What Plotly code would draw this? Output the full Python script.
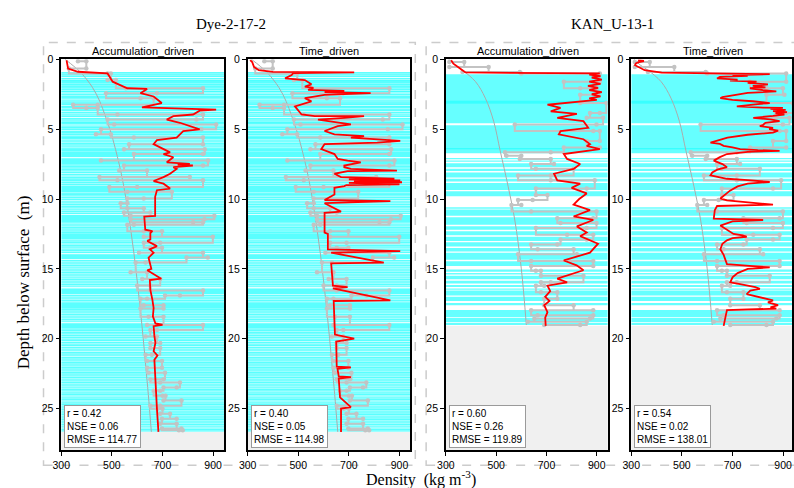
import plotly.graph_objects as go

W, H = 794, 488

# ---------------- Dye-2-17-2 ----------------
dye_end = 26.67
dye_obs_depth = [0.14, 0.66, 1.01, 1.48, 2.07, 2.43, 2.78, 3.25, 3.48, 3.95, 4.31, 4.66, 5.01, 5.37,
                 5.60, 6.07, 6.43, 6.78, 7.25, 7.60, 7.96, 8.43, 8.66, 9.13, 9.48, 9.96, 10.30, 10.66,
                 10.97, 11.20, 11.44, 11.67, 11.84, 12.30, 12.70, 13.13, 13.49, 13.84, 14.19, 14.55,
                 15.25, 15.72, 16.19, 16.55, 16.90, 17.13, 17.60, 17.84, 18.43, 19.02, 19.37, 19.84,
                 20.31, 20.67, 21.14, 21.60, 22.08, 22.43, 22.90, 23.14, 23.49, 23.73, 24.08, 24.43,
                 24.79, 25.02, 25.37, 25.73, 26.08, 26.43, 26.55]
dye_obs_lo = [366, 330, 483, 483, 555, 477, 613, 347, 399, 522, 483, 509, 457, 437,
              587, 568, 548, 587, 457, 548, 529, 451, 522, 490, 561, 561, 535, 561,
              548, 574, 574, 821, 561, 626, 626, 626, 652, 607, 795, 594,
              574, 620, 600, 652, 710, 613, 626, 613, 645, 639, 652, 633,
              652, 652, 633, 639, 639, 645, 652, 691, 704, 665, 700, 704,
              652, 680, 691, 698, 691, 698, 765]
dye_obs_hi = [399, 399, 496, 516, 860, 678, 665, 444, 444, 860, 834, 912, 854, 496,
              860, 860, 867, 860, 880, 860, 639, 808, 860, 600, 737, 626, 561, 626,
              652, 905, 866, 860, 587, 698, 899, 691, 698, 860, 879, 633,
              639, 691, 652, 860, 769, 639, 704, 704, 704, 860, 678, 678,
              691, 691, 658, 698, 698, 710, 704, 769, 756, 691, 712, 775,
              691, 700, 730, 756, 756, 775, 780]
# thick ice bands (top, bottom) and thin ice lenses (depth)
dye_ice_top = [1.33, 2.45, 3.75, 4.20, 5.30, 6.60, 7.08, 8.75, 9.05, 11.15, 12.45, 13.95, 16.40,
               17.45, 18.90]
dye_ice_bot = [1.42, 2.58, 3.88, 4.33, 5.42, 7.00, 7.50, 8.88, 9.50, 11.70, 12.90, 14.30, 16.80,
               17.85, 19.25]
dye_ice_lines = [0.95, 1.05, 1.12, 1.22, 1.50, 1.58, 1.66, 1.77, 1.85, 1.96, 2.04, 2.15, 2.27, 2.33,
                 2.66, 2.73, 2.82, 2.93, 3.05, 3.14, 3.22, 3.36, 3.44, 3.57, 3.66, 3.97, 4.08,
                 4.40, 4.51, 4.58, 4.70, 4.83, 4.91, 5.02, 5.16, 5.24, 5.50, 5.59, 5.66, 5.78,
                 5.90, 6.01, 6.12, 6.22, 6.35, 6.44, 6.53, 7.56, 7.66, 7.77, 7.88, 7.99, 8.10, 8.24,
                 8.35, 8.47, 8.58, 8.66, 8.97, 9.58, 9.66, 9.78, 9.90, 10.02, 10.16, 10.27, 10.40,
                 10.52, 10.64, 10.77, 10.90, 11.02, 11.80, 11.92, 12.04, 12.15, 12.28, 12.38, 13.00,
                 13.11, 13.22, 13.34, 13.45, 13.58, 13.70, 13.82, 14.40, 14.52, 14.64, 14.76, 14.88,
                 15.02, 15.15, 15.26, 15.38, 15.50, 15.64, 15.76, 15.88, 16.00, 16.12, 16.24, 16.90,
                 17.02, 17.14, 17.26, 17.38, 17.92, 18.02, 18.14, 18.26, 18.38, 18.50, 18.62, 18.74,
                 19.32, 19.42, 19.55, 19.66, 19.78, 19.90, 20.03, 20.14, 20.27, 20.38, 20.50, 20.63,
                 20.74, 20.86, 20.99, 21.10, 21.22, 21.35, 21.46, 21.58, 21.71, 21.82, 21.94, 22.07,
                 22.18, 22.30, 22.43, 22.54, 22.66, 22.79, 22.90, 23.02, 23.15, 23.26, 23.38, 23.51,
                 23.62, 23.74, 23.87, 23.98, 24.10, 24.23, 24.34, 24.46, 24.59, 24.70, 24.82, 24.95,
                 25.06, 25.18, 25.31, 25.42, 25.54, 25.67, 25.78, 25.90, 26.03, 26.14, 26.26, 26.39,
                 26.50, 26.60]
dye_hl_depth = [0, 0.5, 1, 2, 3, 4, 5, 6, 8, 10, 12, 14, 16, 18, 20, 22, 24, 26.67]
dye_hl_dens = [315, 350, 380, 423, 452, 473, 492, 508, 535, 556, 573, 588, 601, 613, 624, 634, 644, 656]

dye_acc_depth = [0.07, 0.66, 0.89, 1.01, 1.6, 2.07, 2.12, 2.42, 2.66, 3.13, 3.44, 3.48, 3.6, 3.67, 3.95,
                 4.07, 4.31, 4.54, 5.01, 5.13, 5.37, 5.6, 5.79, 6.07, 6.66, 6.78, 7.01, 7.37, 7.49, 7.55,
                 7.6, 7.72, 7.84, 8.19, 8.43, 8.71, 8.9, 9.25, 9.37, 9.84, 11.2, 11.25, 12.2, 12.3,
                 12.43, 12.9, 13.0, 13.37, 13.6, 13.84, 14.2, 15.0, 15.1, 15.7, 15.8, 16.5, 17.2,
                 17.8, 18.4, 18.9, 19.0, 19.1, 19.8, 20.3, 20.9, 21.2, 21.5, 22.5, 23.5, 25.0, 26.67]
dye_acc_dens = [321, 327, 366, 483, 503, 561, 639, 613, 665, 697, 619, 704, 912, 847, 821,
                743, 717, 769, 847, 782, 769, 756, 678, 665, 730, 704, 743, 717, 808, 760,
                820, 743, 756, 730, 704, 665, 704, 730, 678, 671, 671, 628, 632, 660,
                652, 652, 640, 678, 650, 665, 645, 656, 640, 695, 650, 652, 660,
                665, 662, 672, 700, 665, 668, 672, 665, 680, 668, 670, 672, 678, 684]
dye_time_depth = [0.05, 0.19, 0.54, 0.78, 0.90, 0.94, 0.98, 1.13, 1.36, 1.48, 1.79, 1.95, 2.05, 2.19,
                  2.26, 2.35, 2.42, 2.54, 2.78, 3.01, 3.37, 3.95, 4.07, 4.07, 4.19, 4.31, 4.66, 4.78,
                  5.13, 5.37, 5.49, 5.6, 5.84, 5.96, 6.07, 6.43, 6.78, 7.13, 7.25, 7.37, 7.6, 7.72,
                  7.84, 7.96, 8.0, 8.19, 8.43, 8.55, 8.6, 8.66, 8.72, 8.8, 8.85, 8.95, 9.0, 9.07,
                  9.2, 9.67, 10.07, 10.15, 10.3, 10.9, 10.99, 12.4, 12.5, 13.6, 13.73, 13.84, 14.55,
                  14.6, 16.2, 16.3, 16.4, 17.26, 17.3, 19.7, 20.0, 20.2, 22.0, 22.05, 22.15, 22.7,
                  22.75, 22.85, 24.2, 24.9, 25.0, 26.67]
dye_time_dens = [310, 318, 325, 344, 400, 721, 480, 474, 448, 526, 552, 526, 560, 539,
                 682, 604, 786, 604, 526, 552, 487, 513, 565, 760, 682, 578, 708, 656,
                 604, 643, 760, 708, 903, 812, 604, 591, 643, 656, 695, 747, 682, 682,
                 708, 890, 695, 643, 669, 880, 700, 903, 720, 910, 700, 900, 690, 682,
                 643, 643, 604, 864, 604, 669, 604, 604, 617, 617, 903, 630, 838,
                 630, 637, 695, 637, 864, 640, 645, 721, 650, 652, 708, 655, 660,
                 708, 660, 665, 708, 669, 669]

# ---------------- KAN_U-13-1 ----------------
kan_end = 19.08
kan_obs_depth = [0.19, 0.54, 0.90, 1.01, 1.60, 2.07, 2.54, 3.13, 3.84, 4.19, 4.66, 5.13, 5.84, 6.31,
                 6.66, 6.90, 7.13, 7.49, 7.84, 8.31, 8.66, 9.25, 9.72, 10.07, 10.43, 10.90, 11.37,
                 11.72, 12.07, 12.55, 12.90, 13.25, 13.60, 13.96, 14.43, 14.79, 15.14, 15.49, 15.96,
                 16.20, 16.67, 17.14, 17.61, 17.96, 18.32, 18.55, 18.79, 19.02]
kan_obs_lo = [314, 314, 366, 600, 769, 834, 834, 834, 873, 860, 574, 886, 860, 769,
              535, 541, 594, 639, 658, 587, 717, 658, 658, 587, 561, 639, 743,
              756, 658, 782, 756, 639, 665, 587, 639, 639, 658, 678, 678,
              658, 678, 691, 691, 639, 665, 652, 626, 691]
kan_obs_hi = [373, 470, 594, 912, 912, 899, 905, 938, 912, 925, 899, 912, 912, 912,
              717, 600, 717, 730, 808, 717, 892, 860, 704, 645, 600, 899, 886,
              899, 860, 886, 860, 743, 808, 821, 886, 886, 678, 847, 717,
              691, 743, 743, 808, 886, 886, 873, 860, 834]
kan_ice_top = [1.06, 4.72, 7.06, 7.25, 7.44, 7.84, 8.10, 8.55, 8.85, 9.45, 10.58, 10.75, 11.30,
               11.95, 12.30, 12.70, 13.10, 13.50, 13.85, 14.45, 15.05, 15.30, 15.50, 15.85, 16.15,
               16.40, 16.55, 17.00, 17.45, 17.95, 18.50, 18.85]
kan_ice_bot = [4.58, 6.73, 7.16, 7.34, 7.72, 8.00, 8.45, 8.75, 9.35, 9.80, 10.70, 11.20, 11.85,
               12.20, 12.60, 13.00, 13.40, 13.75, 14.35, 14.80, 15.20, 15.40, 15.75, 16.05, 16.30,
               16.50, 16.90, 17.30, 17.60, 18.45, 18.80, 19.02]
kan_ice_lines = [3.00, 3.12, 6.40]
kan_hl_depth = [0, 0.4, 0.78, 1.6, 2.78, 4.43, 6.55, 9.13, 11.5, 15.0, 19.02]
kan_hl_dens = [312, 335, 366, 418, 457, 490, 516, 548, 574, 600, 620]

kan_acc_depth = [0.07, 0.31, 0.78, 0.94, 1.01, 1.1, 1.2, 1.3, 1.45, 1.6, 1.75, 1.9, 2.05, 2.2, 2.35,
                 2.5, 2.65, 2.8, 2.9, 3.25, 3.48, 3.72, 3.9, 4.19, 4.43, 4.9, 5.13, 5.37, 5.72, 6.07,
                 6.2, 6.43, 6.78, 7.13, 7.49, 7.84, 8.19, 8.66, 8.9, 9.2, 9.6, 10.0, 10.4, 10.8,
                 11.25, 11.5, 11.96, 12.4, 12.66, 13.2, 13.84, 14.4, 14.75, 15.1, 15.7, 15.96, 16.2,
                 16.6, 17.0, 17.3, 17.6, 18.1, 18.5, 19.08]
kan_acc_dens = [321, 330, 366, 378, 912, 870, 915, 880, 920, 870, 915, 865, 905, 870, 920,
                880, 915, 870, 900, 704, 756, 717, 821, 743, 847, 866, 756, 749, 847, 873,
                860, 912, 769, 782, 834, 808, 730, 743, 834, 800, 860, 830, 808, 873,
                808, 886, 821, 860, 834, 905, 873, 769, 820, 847, 743, 782, 704,
                715, 695, 712, 691, 704, 695, 697]
kan_time_depth = [0.07, 0.12, 0.2, 0.3, 0.42, 0.6, 0.78, 0.95, 1.06, 1.12, 1.18, 1.25, 1.37, 1.45,
                  1.52, 1.6, 1.68, 1.8, 1.9, 2.0, 2.07, 2.2, 2.3, 2.4, 2.55, 2.7, 2.78, 2.9, 3.0,
                  3.13, 3.2, 3.3, 3.37, 3.45, 3.48, 3.55, 3.62, 3.7, 3.78, 3.85, 3.95, 4.05, 4.19,
                  4.3, 4.43, 4.55, 4.7, 4.78, 4.9, 5.0, 5.1, 5.25, 5.4, 5.6, 5.8, 5.96, 6.05, 6.19,
                  6.3, 6.43, 6.5, 6.55, 6.62, 6.78, 7.0, 7.25, 7.5, 7.72, 7.9, 8.1, 8.31, 8.45,
                  8.55, 8.65, 8.78, 8.9, 9.1, 9.4, 9.7, 9.96, 10.1, 10.25, 10.4, 10.5, 10.8, 11.1,
                  11.4, 11.5, 11.6, 11.9, 12.2, 12.5, 12.6, 12.7, 12.8, 12.96, 13.2, 13.6, 14.0,
                  14.4, 14.66, 14.8, 14.9, 15.0, 15.3, 15.6, 15.96, 16.1, 16.2, 16.3, 16.43, 16.55,
                  16.8, 17.0, 17.1, 17.26, 17.4, 17.6, 17.75, 17.85, 17.9, 17.96, 18.2, 18.55, 19.08]
kan_time_dens = [327, 350, 330, 318, 315, 335, 353, 420, 847, 700, 760, 650, 639, 720,
                 690, 795, 760, 840, 780, 830, 769, 820, 873, 760, 700, 660, 652, 700, 780,
                 847, 800, 740, 717, 820, 899, 850, 910, 860, 915, 870, 905, 860, 782,
                 850, 886, 830, 820, 808, 860, 845, 880, 860, 760, 680, 640, 613, 650, 665,
                 700, 730, 800, 886, 760, 678, 650, 626, 660, 678, 640, 620, 613, 650,
                 678, 760, 847, 760, 720, 690, 670, 652, 678, 760, 860, 639, 630, 628,
                 626, 821, 700, 652, 680, 704, 740, 756, 700, 678, 660, 652, 665,
                 672, 678, 780, 847, 760, 720, 700, 691, 730, 756, 790, 808, 770,
                 756, 800, 830, 860, 840, 880, 850, 873, 760, 678, 675, 671, 665]

site_titles = ["Dye-2-17-2", "KAN_U-13-1"]
panel_titles = ["Accumulation_driven", "Time_driven", "Accumulation_driven", "Time_driven"]
stats_r = ["0.42", "0.40", "0.60", "0.54"]
stats_nse = ["0.06", "0.05", "0.26", "0.02"]
stats_rmse = ["114.77", "114.98", "119.89", "138.01"]

# ---------------- layout geometry (pixels) ----------------
panel_px = [(53, 218), (242, 407), (443, 607), (631, 794)]
x_ranges = [[300, 943], [300, 943], [300, 943], [300, 935]]
top_px, bot_px = 54, 450
y_range = [28, 0]

sites = [
    dict(end=dye_end, od=dye_obs_depth, lo=dye_obs_lo, hi=dye_obs_hi, it=dye_ice_top, ib=dye_ice_bot,
         il=dye_ice_lines, hd=dye_hl_depth, hv=dye_hl_dens, faint=True),
    dict(end=kan_end, od=kan_obs_depth, lo=kan_obs_lo, hi=kan_obs_hi, it=kan_ice_top, ib=kan_ice_bot,
         il=kan_ice_lines, hd=kan_hl_depth, hv=kan_hl_dens, faint=False),
]
models = [(dye_acc_depth, dye_acc_dens), (dye_time_depth, dye_time_dens),
          (kan_acc_depth, kan_acc_dens), (kan_time_depth, kan_time_dens)]

fig = go.Figure()
XMIN, XMAX = 300, 950
for i in range(4):
    s = sites[i // 2]
    xa = "x" if i == 0 else f"x{i+1}"
    ya = "y" if i == 0 else f"y{i+1}"
    # no-data background
    fig.add_trace(go.Scatter(x=[XMIN, XMAX, XMAX, XMIN, XMIN], y=[s["end"], s["end"], 28, 28, s["end"]],
                             fill="toself", fillcolor="#f0f0f0", line=dict(width=0), mode="lines",
                             hoverinfo="skip", showlegend=False, xaxis=xa, yaxis=ya))
    if s["faint"]:
        fig.add_trace(go.Scatter(x=[XMIN, XMAX, XMAX, XMIN, XMIN], y=[0.95, 0.95, s["end"], s["end"], 0.95],
                                 fill="toself", fillcolor="rgba(0,255,255,0.12)", line=dict(width=0),
                                 mode="lines", hoverinfo="skip", showlegend=False, xaxis=xa, yaxis=ya))
    ix, iy = [], []
    for t, b in zip(s["it"], s["ib"]):
        ix += [XMIN, XMAX, XMAX, XMIN, XMIN, None]
        iy += [t, t, b, b, t, None]
    fig.add_trace(go.Scatter(x=ix, y=iy, fill="toself", fillcolor="rgba(0,255,255,0.6)",
                             line=dict(width=0), mode="lines", hoverinfo="skip", showlegend=False,
                             xaxis=xa, yaxis=ya))
    lx, ly = [], []
    for d in s["il"]:
        lx += [XMIN, XMAX, None]
        ly += [d, d, None]
    fig.add_trace(go.Scatter(x=lx, y=ly, mode="lines", line=dict(color="rgba(0,255,255,0.6)", width=1.2),
                             hoverinfo="skip", showlegend=False, xaxis=xa, yaxis=ya))
    # empirical curve
    fig.add_trace(go.Scatter(x=s["hv"], y=s["hd"], mode="lines", line=dict(color="#ababab", width=1),
                             line_shape="spline", showlegend=False, xaxis=xa, yaxis=ya))
    # observations: each sample drawn as a horizontal bar, linked by steps
    ox, oy = [], []
    prev = None
    for d, lo, hi in zip(s["od"], s["lo"], s["hi"]):
        if prev is not None and abs(prev - hi) < abs(prev - lo):
            pair = [hi, lo]
        else:
            pair = [lo, hi]
        ox += pair
        oy += [d, d]
        prev = pair[1]
    fig.add_trace(go.Scatter(x=ox, y=oy, mode="lines+markers",
                             line=dict(color="#c3c3c3", width=2, shape="vh"),
                             marker=dict(color="#c3c3c3", size=4.5), showlegend=False, xaxis=xa, yaxis=ya))
    # model
    md, mv = models[i]
    fig.add_trace(go.Scatter(x=mv, y=md, mode="lines", line=dict(color="red", width=1.8),
                             showlegend=False, xaxis=xa, yaxis=ya))

axis_common = dict(showline=True, mirror=True, linecolor="black", linewidth=1.5, ticks="outside",
                   ticklen=4, tickwidth=1, tickcolor="black", showgrid=False, zeroline=False,
                   tickfont=dict(family="Liberation Sans, Arial", size=10.5, color="black"))
layout = dict(width=W, height=H, margin=dict(l=0, r=0, t=0, b=0), plot_bgcolor="white",
              paper_bgcolor="white", showlegend=False)
for i in range(4):
    x0, x1 = panel_px[i]
    xk = "xaxis" if i == 0 else f"xaxis{i+1}"
    yk = "yaxis" if i == 0 else f"yaxis{i+1}"
    ya = "y" if i == 0 else f"y{i+1}"
    xa = "x" if i == 0 else f"x{i+1}"
    layout[xk] = dict(domain=[x0 / W, x1 / W], range=x_ranges[i], tickvals=[300, 500, 700, 900],
                      anchor=ya, **axis_common)
    layout[yk] = dict(domain=[1 - bot_px / H, 1 - top_px / H], range=y_range,
                      tickvals=[0, 5, 10, 15, 20, 25], anchor=xa, **axis_common)

annotations = []
shapes = []
for i in range(4):
    x0, x1 = panel_px[i]
    annotations.append(dict(text=panel_titles[i], x=(x0 + 83) / W,
                            y=1 - 46 / H, xref="paper", yref="paper", showarrow=False,
                            xanchor="center", yanchor="middle",
                            font=dict(family="Liberation Sans, Arial", size=11, color="black")))
    annotations.append(dict(text=f"r = {stats_r[i]}<br>NSE = {stats_nse[i]}<br>RMSE = {stats_rmse[i]}",
                            x=(x0 + 3) / W, y=1 - 447 / H, xref="paper", yref="paper", showarrow=False,
                            xanchor="left", yanchor="bottom", align="left", bgcolor="white",
                            bordercolor="#9a9a9a", borderwidth=1, borderpad=2,
                            font=dict(family="Liberation Sans, Arial", size=10, color="black")))
for k, cx in enumerate([225, 612]):
    annotations.append(dict(text=site_titles[k], x=cx / W, y=1 - 18 / H, xref="paper", yref="paper",
                            showarrow=False, xanchor="center", yanchor="middle",
                            font=dict(family="Liberation Serif, Times New Roman", size=15, color="black")))
annotations.append(dict(text="Depth below surface  (m)", x=15 / W, y=1 - 280 / H, xref="paper", yref="paper",
                        showarrow=False, textangle=-90, xanchor="center", yanchor="middle",
                        font=dict(family="Liberation Serif, Times New Roman", size=17, color="black")))
annotations.append(dict(text="Density  (kg m<sup>-3</sup>)", x=418 / W, y=1 - 478 / H, xref="paper",
                        yref="paper", showarrow=False, xanchor="center", yanchor="middle",
                        font=dict(family="Liberation Serif, Times New Roman", size=16, color="black")))
for gx0, gx1 in [(35, 412), (423, 800)]:
    shapes.append(dict(type="rect", xref="paper", yref="paper", x0=gx0 / W, x1=gx1 / W,
                       y0=1 - 465 / H, y1=1 - 37 / H, line=dict(color="#cccccc", width=1.5, dash="dash"),
                       fillcolor="rgba(0,0,0,0)", layer="below"))
layout["annotations"] = annotations
layout["shapes"] = shapes
fig.update_layout(**layout)
fig.write_html("out.html")
